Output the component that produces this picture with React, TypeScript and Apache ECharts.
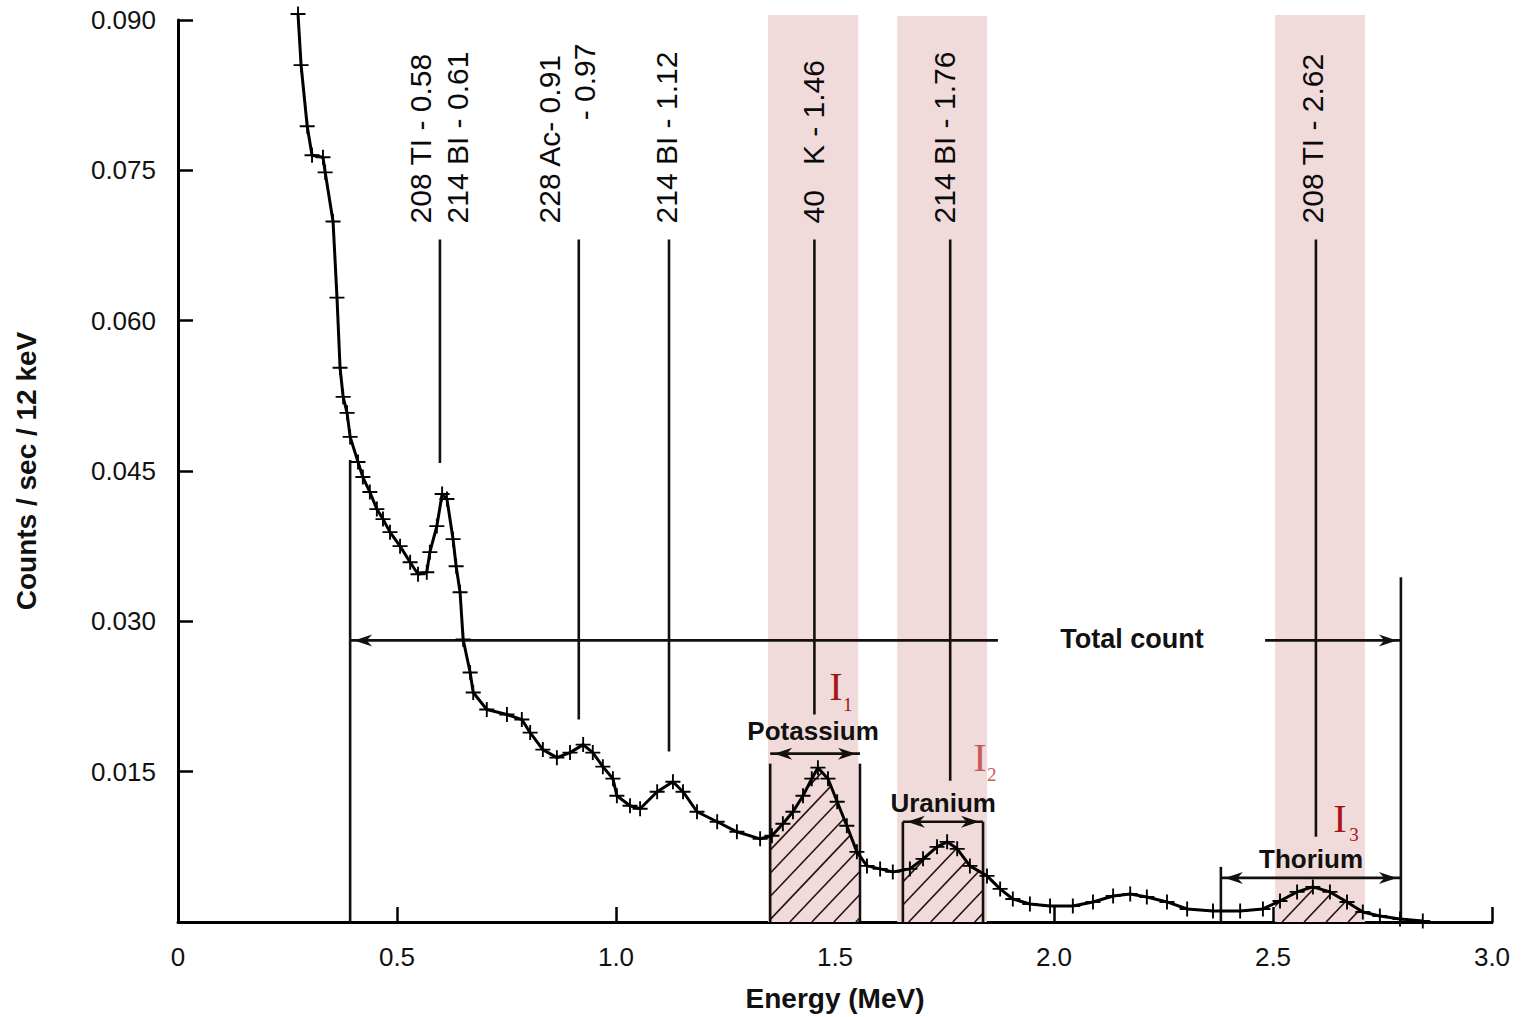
import React, { useEffect, useRef } from 'react';
import * as echarts from 'echarts';

// Spectrum (Energy in MeV, counts / sec / 12 keV)
const energy = [0.274,0.281,0.295,0.306,0.331,0.336,0.354,0.363,0.370,0.377,0.386,0.393,0.411,0.422,0.438,0.454,0.468,0.484,0.507,0.530,0.548,0.568,0.575,0.591,0.603,0.614,0.628,0.635,0.644,0.651,0.667,0.674,0.705,0.751,0.785,0.804,0.833,0.865,0.895,0.925,0.947,0.970,0.993,1.002,1.032,1.055,1.094,1.130,1.153,1.185,1.231,1.276,1.329,1.356,1.381,1.404,1.427,1.447,1.461,1.484,1.505,1.527,1.550,1.573,1.603,1.632,1.671,1.701,1.733,1.756,1.779,1.808,1.847,1.877,1.906,1.945,1.991,2.043,2.089,2.135,2.174,2.212,2.258,2.304,2.363,2.425,2.477,2.516,2.555,2.591,2.630,2.669,2.705,2.744,2.790,2.842];
const counts = [0.0906,0.0855,0.0794,0.0765,0.0763,0.0748,0.0699,0.0623,0.0553,0.0524,0.0508,0.0484,0.0459,0.0444,0.0429,0.0412,0.0402,0.0389,0.0375,0.0359,0.0347,0.0349,0.0369,0.0395,0.0427,0.0422,0.0382,0.0355,0.0329,0.0282,0.0249,0.0229,0.0212,0.0207,0.0202,0.0189,0.0172,0.0164,0.0169,0.0177,0.0169,0.0155,0.0143,0.0126,0.0116,0.0113,0.0130,0.0140,0.0130,0.0110,0.0100,0.0090,0.0083,0.0086,0.0098,0.0110,0.0126,0.0143,0.0154,0.0143,0.0120,0.0096,0.0070,0.0056,0.0053,0.0050,0.0053,0.0063,0.0075,0.0080,0.0073,0.0056,0.0046,0.0033,0.0023,0.0018,0.0016,0.0016,0.0020,0.0026,0.0028,0.0025,0.0020,0.0013,0.0011,0.0011,0.0013,0.0021,0.0030,0.0035,0.0030,0.0020,0.0010,0.0006,0.0003,0.0001];

// Axis ticks
const xTicks = { min: 0, max: 3, interval: 0.5 };
const yTicks = { min: 0, max: 0.09, interval: 0.015 };

// Shaded windows [from, to, top]
const bands = [[1.347, 1.553, 0.0905], [1.642, 1.847, 0.0904], [2.505, 2.710, 0.0905]];
// Hatched integration windows [from, to]
const hatchRanges = [[1.352, 1.557], [1.655, 1.838], [2.505, 2.710]];

// Vertical lines [energy, fromCount, toCount]
const peakLines = [[0.598, 0.0458, 0.0681], [0.915, 0.0202, 0.0681], [1.121, 0.0170, 0.0681], [1.453, 0.0207, 0.0681], [1.763, 0.0141, 0.0681], [2.598, 0.0085, 0.0681]];
const boxEdges = [[0.393, 0, 0.0461], [2.792, 0, 0.0344], [1.352, 0, 0.0158], [1.557, 0, 0.0158], [1.655, 0, 0.0100], [1.838, 0, 0.0100], [2.381, 0, 0.0055]];

// Arrows [from, to, count, heads]
const arrows: [number, number, number, string][] = [
  [1.352, 1.557, 0.0168, 'both'],
  [1.655, 1.838, 0.0100, 'both'],
  [2.381, 2.792, 0.0044, 'both'],
  [0.393, 1.872, 0.0281, 'start'],
  [2.482, 2.792, 0.0281, 'end'],
];

// Nuclide labels [text, energy, count]
const peakLabels: [string, number, number][] = [
  ['208 TI - 0.58', 0.553, 0.0697],
  ['214 BI - 0.61', 0.639, 0.0697],
  ['228 Ac- 0.91', 0.849, 0.0697],
  ['- 0.97', 0.929, 0.0800],
  ['214 BI - 1.12', 1.116, 0.0697],
  ['40   K - 1.46', 1.452, 0.0697],
  ['214 BI - 1.76', 1.751, 0.0697],
  ['208 TI - 2.62', 2.591, 0.0697],
];

// Window labels [text, energy, count]
const windowLabels: [string, number, number][] = [
  ['Potassium', 1.450, 0.0191],
  ['Uranium', 1.747, 0.0119],
  ['Thorium', 2.587, 0.0063],
  ['Total count', 2.178, 0.0282],
];

// Intensity labels [main, sub, energy, count, subEnergy, subCount, color]
const intensityLabels: [string, string, number, number, number, number, string][] = [
  ['I', '1', 1.502, 0.0235, 1.529, 0.0217, '#a3161a'],
  ['I', '2', 1.831, 0.0164, 1.858, 0.0147, '#c65a5e'],
  ['I', '3', 2.653, 0.0103, 2.685, 0.0087, '#a8141a'],
];

function interp(e: number) {
  for (let i = 0; i < energy.length - 1; i++) {
    if (e >= energy[i] && e <= energy[i + 1]) {
      const t = (e - energy[i]) / (energy[i + 1] - energy[i]);
      return counts[i] + t * (counts[i + 1] - counts[i]);
    }
  }
  return 0;
}

const SANS = '"Liberation Sans", Arial, sans-serif';
const SERIF = '"Liberation Serif", "Times New Roman", serif';
const INK = '#141010';

export default function App() {
  const ref = useRef<HTMLDivElement>(null);
  useEffect(() => {
    document.body.style.margin = '0';
    const chart = echarts.init(ref.current as HTMLDivElement, null, { renderer: 'svg' });
    const option: any = {
      animation: false,
      backgroundColor: '#ffffff',
      grid: { left: 178, right: 29, top: 20, bottom: 95 },
      xAxis: {
        type: 'value', min: xTicks.min, max: xTicks.max, interval: xTicks.interval,
        name: 'Energy (MeV)', nameLocation: 'middle', nameGap: 62,
        nameTextStyle: { fontFamily: SANS, fontWeight: 'bold', fontSize: 28, color: '#111' },
        axisLine: { lineStyle: { color: '#000', width: 3 } },
        axisTick: { inside: true, length: 15, lineStyle: { color: '#000', width: 2.5 } },
        axisLabel: { fontFamily: SANS, fontSize: 26, color: '#111', margin: 22, formatter: (v: number) => (v === 0 ? '0' : v.toFixed(1)) },
        splitLine: { show: false },
      },
      yAxis: {
        type: 'value', min: yTicks.min, max: yTicks.max, interval: yTicks.interval,
        name: 'Counts / sec / 12 keV', nameLocation: 'middle', nameGap: 138, nameRotate: 90,
        nameTextStyle: { fontFamily: SANS, fontWeight: 'bold', fontSize: 28, color: '#111' },
        axisLine: { lineStyle: { color: '#000', width: 3 } },
        axisTick: { inside: true, length: 15, lineStyle: { color: '#000', width: 2.5 } },
        axisLabel: { fontFamily: SANS, fontSize: 26, color: '#111', margin: 22, formatter: (v: number) => (v === 0 ? '' : v.toFixed(3)) },
        splitLine: { show: false },
      },
      series: [
        {
          type: 'custom', name: 'bands', silent: true, z: 1,
          data: bands.map((b) => [b[0], b[2]]),
          renderItem: (params: any, api: any) => {
            const b = bands[params.dataIndex];
            const p1 = api.coord([b[0], b[2]]);
            const p2 = api.coord([b[1], 0]);
            return { type: 'rect', shape: { x: p1[0], y: p1[1], width: p2[0] - p1[0], height: p2[1] - p1[1] }, style: { fill: '#f1dada' } };
          },
        },
        {
          type: 'custom', name: 'hatch', silent: true, z: 2,
          data: hatchRanges.map((h) => [h[0], 0]),
          renderItem: (params: any, api: any) => {
            const [e1, e2] = hatchRanges[params.dataIndex];
            const pts: number[][] = [];
            pts.push(api.coord([e1, 0]));
            pts.push(api.coord([e1, interp(e1)]));
            energy.forEach((e, i) => { if (e > e1 && e < e2) pts.push(api.coord([e, counts[i]])); });
            pts.push(api.coord([e2, interp(e2)]));
            pts.push(api.coord([e2, 0]));
            const x1 = pts[0][0];
            const x2 = pts[pts.length - 1][0];
            const bottom = pts[0][1];
            const top = Math.min(...pts.map((p) => p[1])) - 2;
            const h = bottom - top;
            const children: any[] = [];
            for (let x = x1 - h; x < x2 + 2; x += 22) {
              children.push({ type: 'line', shape: { x1: x, y1: bottom, x2: x + h * 0.95, y2: top }, style: { stroke: '#2a1212', lineWidth: 1.6 } });
            }
            return { type: 'group', children, clipPath: { type: 'polygon', shape: { points: pts } } };
          },
        },
        {
          type: 'custom', name: 'lines', silent: true, z: 4,
          data: [...peakLines, ...boxEdges].map((s) => [s[0], s[2]]),
          renderItem: (params: any, api: any) => {
            const s = [...peakLines, ...boxEdges][params.dataIndex];
            const a = api.coord([s[0], s[1]]);
            const b = api.coord([s[0], s[2]]);
            return { type: 'line', shape: { x1: a[0], y1: a[1], x2: b[0], y2: b[1] }, style: { stroke: INK, lineWidth: 2.6 } };
          },
        },
        {
          type: 'custom', name: 'arrows', silent: true, z: 4,
          data: arrows.map((a) => [a[0], a[2]]),
          renderItem: (params: any, api: any) => {
            const [f, t, c, heads] = arrows[params.dataIndex];
            const a = api.coord([f, c]);
            const b = api.coord([t, c]);
            const y = a[1];
            const children: any[] = [{ type: 'line', shape: { x1: a[0], y1: y, x2: b[0], y2: y }, style: { stroke: INK, lineWidth: 2.6 } }];
            const L = 18, W = 6, inset = 4;
            if (heads === 'both' || heads === 'start') {
              const tip = a[0] + inset;
              children.push({ type: 'polygon', shape: { points: [[tip, y], [tip + L, y - W], [tip + L * 0.7, y], [tip + L, y + W]] }, style: { fill: INK } });
            }
            if (heads === 'both' || heads === 'end') {
              const tip = b[0] - inset;
              children.push({ type: 'polygon', shape: { points: [[tip, y], [tip - L, y - W], [tip - L * 0.7, y], [tip - L, y + W]] }, style: { fill: INK } });
            }
            return { type: 'group', children };
          },
        },
        {
          type: 'custom', name: 'peakLabels', silent: true, z: 5,
          data: peakLabels.map((l) => [l[1], l[2]]),
          renderItem: (params: any, api: any) => {
            const l = peakLabels[params.dataIndex];
            const p = api.coord([l[1], l[2]]);
            return { type: 'text', x: p[0], y: p[1], rotation: Math.PI / 2, style: { text: l[0], fill: '#0a0a0a', fontFamily: SANS, fontSize: 30, align: 'left', verticalAlign: 'middle' } };
          },
        },
        {
          type: 'custom', name: 'windowLabels', silent: true, z: 5,
          data: windowLabels.map((l) => [l[1], l[2]]),
          renderItem: (params: any, api: any) => {
            const l = windowLabels[params.dataIndex];
            const p = api.coord([l[1], l[2]]);
            return { type: 'text', x: p[0], y: p[1], style: { text: l[0], fill: '#111', fontFamily: SANS, fontWeight: 'bold', fontSize: l[0] === 'Total count' ? 27 : 26, align: 'center', verticalAlign: 'middle' } };
          },
        },
        {
          type: 'custom', name: 'intensity', silent: true, z: 5,
          data: intensityLabels.map((l) => [l[2], l[3]]),
          renderItem: (params: any, api: any) => {
            const l = intensityLabels[params.dataIndex];
            const p = api.coord([l[2], l[3]]);
            const q = api.coord([l[4], l[5]]);
            return {
              type: 'group', children: [
                { type: 'text', x: p[0], y: p[1], style: { text: l[0], fill: l[6], fontFamily: SERIF, fontSize: 40, align: 'center', verticalAlign: 'middle' } },
                { type: 'text', x: q[0], y: q[1], style: { text: l[1], fill: l[6], fontFamily: SERIF, fontSize: 19, align: 'center', verticalAlign: 'middle' } },
              ],
            };
          },
        },
        {
          type: 'line', name: 'spectrum', z: 6, silent: true, clip: false,
          data: energy.map((e, i) => [e, counts[i]]),
          symbol: 'path://M7,0h2v7h7v2h-7v7h-2v-7h-7v-2h7z', symbolSize: 15,
          showSymbol: true, showAllSymbol: true,
          lineStyle: { color: '#000', width: 3 },
          itemStyle: { color: '#000' },
        },
      ],
    };
    chart.setOption(option);
    return () => chart.dispose();
  }, []);
  return <div ref={ref} style={{ width: 1521, height: 1017, background: '#fff' }} />;
}
